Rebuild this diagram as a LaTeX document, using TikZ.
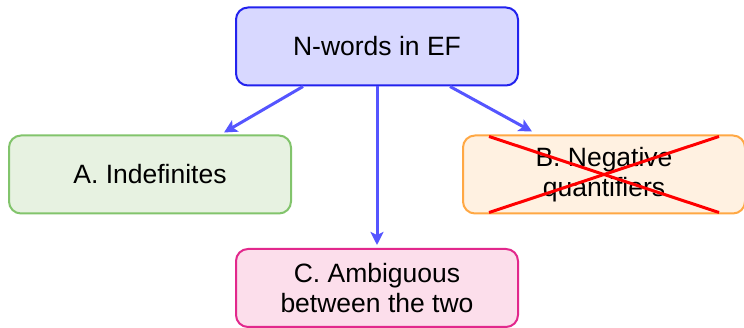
\documentclass[tikz,border=0pt]{standalone}
\usepackage{fontspec}
\setmainfont{Liberation Sans}
\usetikzlibrary{arrows.meta,calc}
\definecolor{topfill}{HTML}{D8D8FF}
\definecolor{topdraw}{HTML}{2222EE}
\definecolor{afill}{HTML}{E7F2E1}
\definecolor{adraw}{HTML}{82C46C}
\definecolor{bfill}{HTML}{FFF1E1}
\definecolor{bdraw}{HTML}{FFA844}
\definecolor{cfill}{HTML}{FCDEEB}
\definecolor{cdraw}{HTML}{E2288C}
\definecolor{arrowc}{HTML}{5555FF}
\tikzset{
  box/.style={rounded corners=12pt, line width=2pt, minimum width=282pt, minimum height=78pt,
    align=center, font=\fontsize{26.5}{30}\selectfont, inner sep=0pt},
  conn/.style={draw=arrowc, line width=3pt, -{Stealth[length=13pt,width=13pt,inset=3pt]}},
  cross/.style={draw=red, line width=3pt}
}
\begin{document}
\begin{tikzpicture}[x=1pt,y=-1pt]
\useasboundingbox (0,0) rectangle (744,328);
\node[box, fill=topfill, draw=topdraw] (top) at (377,46.5) {N-words in EF};
\node[box, fill=afill, draw=adraw] (a) at (150,174.5) {A. Indefinites};
\node[box, fill=bfill, draw=bdraw] (b) at (604,174.5) {B. Negative\\quantifiers};
\node[box, fill=cfill, draw=cdraw] (c) at (377,288) {C. Ambiguous\\between the two};
\draw[cross] ($(b.north west)+(27,2)$) -- ($(b.south east)+(-27,-2)$);
\draw[cross] ($(b.south west)+(27,-2)$) -- ($(b.north east)+(-27,2)$);
\draw[conn] ($(top.south)+(-74,0)$) -- ($(a.north)+(74,-2)$);
\draw[conn] (top.south) -- ($(c.north)+(0,-3)$);
\draw[conn] ($(top.south)+(73,0)$) -- ($(b.north)+(-72,-3)$);
\end{tikzpicture}
\end{document}
